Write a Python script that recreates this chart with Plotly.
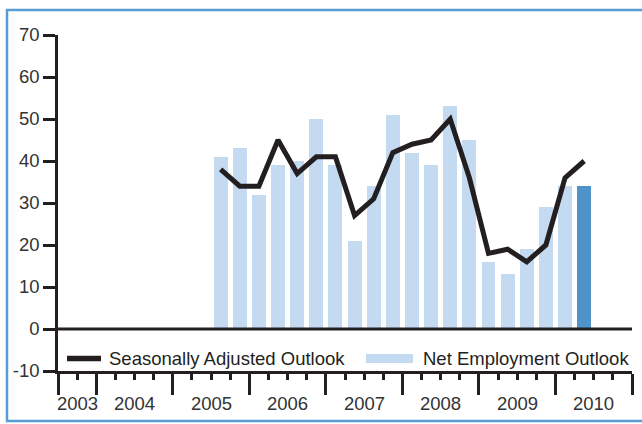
import plotly.graph_objects as go

# ---------------- data ----------------
periods = ["2005-Q3", "2005-Q4",
           "2006-Q1", "2006-Q2", "2006-Q3", "2006-Q4",
           "2007-Q1", "2007-Q2", "2007-Q3", "2007-Q4",
           "2008-Q1", "2008-Q2", "2008-Q3", "2008-Q4",
           "2009-Q1", "2009-Q2", "2009-Q3", "2009-Q4",
           "2010-Q1", "2010-Q2"]
net_employment_outlook = [41, 43, 32, 39, 40, 50, 39, 21, 34, 51,
                          42, 39, 53, 45, 16, 13, 19, 29, 34, 34]
seasonally_adjusted_outlook = [38, 34, 34, 45, 37, 41, 41, 27, 31, 42,
                               44, 45, 50, 36, 18, 19, 16, 20, 36, 40]
forecast_periods = ["2010-Q2"]
year_labels = ["2003", "2004", "2005", "2006", "2007", "2008", "2009", "2010"]
y_ticks = [-10, 0, 10, 20, 30, 40, 50, 60, 70]

# ---------------- styling / geometry ----------------
W, H = 642, 424
ML, MR, MT, MB = 58, 10, 35, 53
AX_START_YEAR, AX_START_Q = 2003, 3
N_QUARTERS = 30
INK = "#231f20"
TEXT = "#333333"
LIGHT = "#c3daf0"
DARK = "#4f93c8"
FRAME = "#5b9bd5"
FONT = "Liberation Sans, Arial, Helvetica, sans-serif"
FS = 18.5


def qpos(label):
    y, q = label.split("-Q")
    return (int(y) - AX_START_YEAR) * 4 + (int(q) - AX_START_Q)


x_bar = [qpos(p) + 0.5 for p in periods]
bar_colors = [DARK if p in forecast_periods else LIGHT for p in periods]

year_start = [max(0, qpos(f"{y}-Q1")) for y in year_labels]
year_end = [qpos(f"{y}-Q1") + 4 for y in year_labels]
year_centers = [(a + b) / 2 for a, b in zip(year_start, year_end)]
major_ticks = sorted(set(year_start + year_end))
minor_ticks = [q for q in range(N_QUARTERS + 1) if q not in major_ticks]

PW = W - ML - MR
PH = H - MT - MB


def px(x):
    return (x - ML) / PW


def py(y):
    return (H - MB - y) / PH


fig = go.Figure()
fig.add_trace(go.Bar(x=x_bar, y=net_employment_outlook, width=0.73,
                     marker=dict(color=bar_colors, line=dict(width=0)),
                     name="Net Employment Outlook", showlegend=False))
fig.add_trace(go.Scatter(x=x_bar, y=seasonally_adjusted_outlook, mode="lines",
                         line=dict(color=INK, width=5),
                         name="Seasonally Adjusted Outlook", showlegend=False))

shapes = [
    # outer frame
    dict(type="rect", xref="paper", yref="paper", x0=px(7), x1=px(W + 10),
         y0=py(421), y1=py(10), line=dict(color=FRAME, width=2.5), layer="below"),
    # zero line
    dict(type="line", xref="x", yref="y", x0=0, x1=N_QUARTERS, y0=0, y1=0,
         line=dict(color=INK, width=3), layer="above"),
    # legend symbols
    dict(type="line", xref="paper", yref="paper", x0=px(67), x1=px(101),
         y0=py(358.5), y1=py(358.5), line=dict(color=INK, width=5.5)),
    dict(type="rect", xref="paper", yref="paper", x0=px(366), x1=px(413),
         y0=py(363), y1=py(354), fillcolor=LIGHT, line=dict(width=0)),
]

annotations = [
    dict(text="Seasonally Adjusted Outlook", xref="paper", yref="paper",
         x=px(107), y=py(358.5), xanchor="left", yanchor="middle", showarrow=False,
         font=dict(family=FONT, size=FS, color=INK)),
    dict(text="Net Employment Outlook", xref="paper", yref="paper",
         x=px(421), y=py(358.5), xanchor="left", yanchor="middle", showarrow=False,
         font=dict(family=FONT, size=FS, color=INK)),
]
for c, lab in zip(year_centers, year_labels):
    annotations.append(dict(text=lab, xref="x", yref="paper", x=c, y=py(403.5),
                            xanchor="center", yanchor="middle", showarrow=False,
                            font=dict(family=FONT, size=FS, color=TEXT)))

fig.update_layout(
    width=W, height=H, autosize=False,
    margin=dict(l=ML, r=MR, t=MT, b=MB, pad=0),
    paper_bgcolor="white", plot_bgcolor="white",
    showlegend=False, bargap=0,
    font=dict(family=FONT, size=FS, color=TEXT),
    shapes=shapes, annotations=annotations,
    xaxis=dict(range=[0, N_QUARTERS], showgrid=False, zeroline=False,
               showline=True, linecolor=INK, linewidth=2.5,
               tickmode="array", tickvals=major_ticks, ticks="outside",
               ticklen=21, tickwidth=2.5, tickcolor=INK, showticklabels=False,
               minor=dict(tickmode="array", tickvals=minor_ticks, ticks="outside",
                          ticklen=6, tickwidth=2.5, tickcolor=INK, showgrid=False)),
    yaxis=dict(range=[-10, 70], showgrid=False, zeroline=False,
               showline=True, linecolor=INK, linewidth=2.5,
               tickmode="array", tickvals=y_ticks,
               ticktext=[str(v) for v in y_ticks], ticks="outside",
               ticklen=12, tickwidth=2.5, tickcolor=INK,
               tickfont=dict(family=FONT, size=FS, color=TEXT)),
)

fig.write_html("out.html",
               config={"displayModeBar": False},
               post_script="document.body.style.margin='0';"
                           "document.body.style.overflow='hidden';")
